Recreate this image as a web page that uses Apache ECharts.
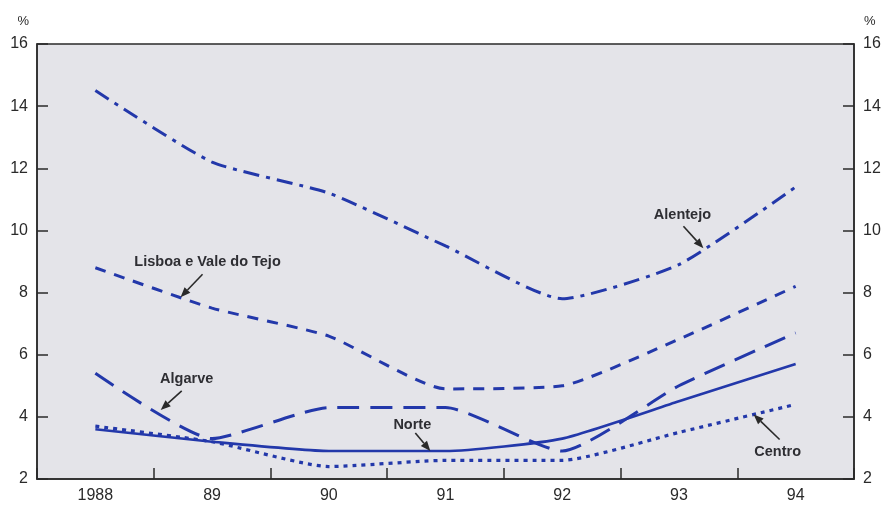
<!DOCTYPE html>
<html>
<head>
<meta charset="utf-8">
<script src="https://cdn.jsdelivr.net/npm/echarts@6/dist/echarts.min.js"></script>
<style>
html,body{margin:0;padding:0;background:#fff;}
#chart{width:889px;height:507px;}
</style>
</head>
<body>
<div id="chart"></div>
<script>
// Regional unemployment rates, %
const years = ['1988', '89', '90', '91', '92', '93', '94'];
const alentejo = [14.5, 12.2, 11.2, 9.5, 7.8, 8.9, 11.4];
const lisboa   = [8.8, 7.5, 6.6, 4.9, 5.0, 6.5, 8.2];
const algarve  = [5.4, 3.3, 4.3, 4.3, 2.9, 5.0, 6.7];
const norte    = [3.6, 3.2, 2.9, 2.9, 3.3, 4.5, 5.7];
const centro   = [3.7, 3.2, 2.4, 2.6, 2.6, 3.5, 4.4];
const yTicks   = [2, 4, 6, 8, 10, 12, 14, 16];

const BLUE = '#2338aa';
const INK = '#2a2a2a';
const FONT = '"Liberation Sans", Arial, sans-serif';

const chart = echarts.init(document.getElementById('chart'));

function yAxisCfg(pos) {
  return {
    type: 'value', position: pos,
    min: yTicks[0], max: yTicks[yTicks.length - 1], interval: 2,
    splitLine: { show: false },
    axisLine: { show: true, lineStyle: { color: INK, width: 1.5 } },
    axisTick: { show: true, inside: true, length: 11, lineStyle: { color: INK, width: 1.5 } },
    axisLabel: { color: INK, fontSize: 16, fontFamily: FONT, margin: 9 },
    name: '%', nameLocation: 'end', nameGap: 16,
    nameTextStyle: { color: INK, fontSize: 13, fontFamily: FONT,
      align: pos === 'left' ? 'right' : 'left', padding: pos === 'left' ? [0, 8, 0, 0] : [0, 0, 0, 10] }
  };
}

function lineSeries(name, data, type, width) {
  return {
    name, type: 'line', data, smooth: 0.18, symbol: 'none',
    lineStyle: { color: BLUE, width: width, type: type, cap: 'butt' },
    z: 3
  };
}

chart.setOption({
  animation: false,
  grid: {
    left: 37, right: 35, top: 44, bottom: 28,
    show: true, backgroundColor: '#e4e4e9', borderColor: INK, borderWidth: 1.5
  },
  xAxis: {
    type: 'category', data: years, boundaryGap: true,
    axisLine: { show: true, lineStyle: { color: INK, width: 1.5 } },
    axisTick: { show: true, inside: true, length: 11, lineStyle: { color: INK, width: 1.5 } },
    axisLabel: { color: INK, fontSize: 16, fontFamily: FONT, margin: 9 },
    splitLine: { show: false }
  },
  yAxis: [yAxisCfg('left'), yAxisCfg('right')],
  series: [
    lineSeries('Alentejo', alentejo, [16, 7, 4, 7], 3),
    lineSeries('Lisboa e Vale do Tejo', lisboa, [11, 9], 3),
    lineSeries('Algarve', algarve, [22, 11], 3),
    lineSeries('Norte', norte, 'solid', 2.6),
    lineSeries('Centro', centro, [4, 5], 3.2)
  ]
});

// Annotation labels with arrows pointing onto their curves
const notes = [
  { text: 'Alentejo', data: alentejo, t: 5.21, label: [-21, -33], tail: [-20, -22] },
  { text: 'Lisboa e Vale do Tejo', data: lisboa, t: 0.73, label: [27, -35], tail: [22, -23] },
  { text: 'Algarve', data: algarve, t: 0.56, label: [26, -31], tail: [21, -19] },
  { text: 'Norte', data: norte, t: 2.87, label: [-18, -26], tail: [-15, -18] },
  { text: 'Centro', data: centro, t: 5.64, label: [24, 38], tail: [26, 25] }
];

function pointOn(data, t) {
  const i = Math.min(Math.floor(t), data.length - 2);
  const f = t - i;
  const a = chart.convertToPixel({ xAxisIndex: 0, yAxisIndex: 0 }, [i, data[i]]);
  const b = chart.convertToPixel({ xAxisIndex: 0, yAxisIndex: 0 }, [i + 1, data[i + 1]]);
  return [a[0] + (b[0] - a[0]) * f, a[1] + (b[1] - a[1]) * f];
}

const graphics = [];
notes.forEach(n => {
  const tip = pointOn(n.data, n.t);
  const tail = [tip[0] + n.tail[0], tip[1] + n.tail[1]];
  const dx = tip[0] - tail[0], dy = tip[1] - tail[1];
  const len = Math.hypot(dx, dy), ux = dx / len, uy = dy / len;
  const hl = 10, hw = 4;
  const base = [tip[0] - ux * hl, tip[1] - uy * hl];
  graphics.push({
    type: 'line', z: 10,
    shape: { x1: tail[0], y1: tail[1], x2: base[0], y2: base[1] },
    style: { stroke: INK, lineWidth: 1.6 }
  });
  graphics.push({
    type: 'polygon', z: 10,
    shape: { points: [tip, [base[0] - uy * hw, base[1] + ux * hw], [base[0] + uy * hw, base[1] - ux * hw]] },
    style: { fill: INK }
  });
  graphics.push({
    type: 'text', z: 10,
    x: tip[0] + n.label[0], y: tip[1] + n.label[1],
    style: { text: n.text, fill: '#2e2e33', font: 'bold 14.5px ' + FONT, align: 'center', verticalAlign: 'middle' }
  });
});
chart.setOption({ graphic: graphics });
</script>
</body>
</html>
